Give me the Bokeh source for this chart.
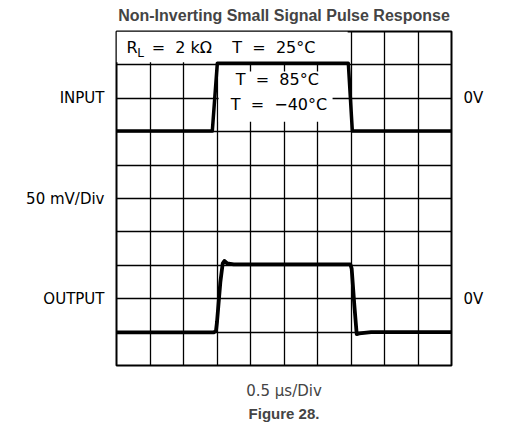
from bokeh.plotting import figure
from bokeh.models import Range1d, Grid, FixedTicker, Label, LinearAxis, Title
from bokeh.embed import file_html
from bokeh.resources import INLINE

# Data (divisions: x 0..10 @ 0.5 us/div, y 0..10 @ 50 mV/div)
input_x = [0, 2.86, 3.01, 6.92, 7.04, 10]
input_y = [7.02, 7.02, 9.05, 9.05, 7.02, 7.02]
output_x = [0, 2.9, 2.97, 3.0, 3.1, 3.17, 3.22, 3.3, 3.5, 6.98, 7.02, 7.1, 7.17, 7.25, 7.6, 10]
output_y = [0.99, 0.99, 1.04, 1.3, 2.5, 3.05, 3.13, 3.06, 3.03, 3.03, 2.9, 1.8, 0.94, 0.96, 1.0, 1.0]
div_ticks = list(range(11))
left_ticks = [2, 5, 8]
left_labels = ["OUTPUT", "50 mV/Div", "INPUT"]
right_ticks = [2, 8]
right_labels = ["0V", "0V"]
title_text = "Non-Inverting Small Signal Pulse Response"
x_label = "0.5 \u03bcs/Div"
fig_caption = "Figure 28."

FONT = "DejaVu Sans"
NB = "\u00a0"

p = figure(width=489, height=424, output_backend="svg", toolbar_location=None,
           x_range=Range1d(0, 10), y_range=Range1d(0, 10),
           x_axis_type=None, y_axis_type=None)
p.min_border_left = 116
p.min_border_right = 38
p.min_border_top = 30
p.min_border_bottom = 59
p.outline_line_color = "black"
p.outline_line_width = 2
p.background_fill_color = "white"
p.border_fill_color = "white"

p.title.text = title_text
p.title.align = "center"
p.title.text_font = "Liberation Sans"
p.title.text_font_size = "16px"
p.title.text_font_style = "bold"
p.title.standoff = 12
p.title.vertical_align = "top"

def side_axis(ticks, labels, where):
    ax = LinearAxis(ticker=FixedTicker(ticks=ticks),
                    major_label_overrides={t: l for t, l in zip(ticks, labels)})
    ax.axis_line_color = None
    ax.major_tick_line_color = None
    ax.minor_tick_line_color = None
    ax.major_tick_out = 0
    ax.major_tick_in = 0
    ax.major_label_standoff = 12
    ax.major_label_text_font = FONT
    ax.major_label_text_font_size = "15px"
    ax.major_label_text_color = "black"
    p.add_layout(ax, where)
    return ax

side_axis(left_ticks, left_labels, "left")
side_axis(right_ticks, right_labels, "right")

bx = LinearAxis(ticker=FixedTicker(ticks=[]))
bx.axis_line_color = None
bx.major_tick_line_color = None
bx.minor_tick_line_color = None
bx.major_tick_out = 0
bx.axis_label = x_label
bx.axis_label_text_font = FONT
bx.axis_label_text_font_size = "15px"
bx.axis_label_text_font_style = "normal"
bx.axis_label_standoff = 16
p.add_layout(bx, "below")

p.add_layout(Title(text=fig_caption, align="center", text_font="Liberation Sans",
                   text_font_size="15px", text_font_style="bold", standoff=0), "below")

p.add_layout(Grid(dimension=0, ticker=FixedTicker(ticks=div_ticks),
                  grid_line_color="black", grid_line_width=1.3))
p.add_layout(Grid(dimension=1, ticker=FixedTicker(ticks=div_ticks),
                  grid_line_color="black", grid_line_width=1.3))

# white label boxes over the grid
p.quad(left=[0.0, 3.05], right=[6.9, 6.45], bottom=[9.08, 7.3], top=[10, 8.8],
       fill_color="white", line_color=None)

p.line(input_x, input_y, line_color="black", line_width=3.5, line_join="round")
p.line(output_x, output_y, line_color="black", line_width=3.8, line_join="round")

def lab(x, y, text, size="16px", align="left"):
    p.add_layout(Label(x=x, y=y, text=text, text_font=FONT, text_font_size=size,
                       text_align=align, text_baseline="middle", text_color="black"))

lab(0.3, 9.52, "R")
lab(0.62, 9.36, "L", size="12px")
lab(1.05, 9.52, "=" + NB + " 2 k\u03a9" + NB + " " + NB + " T" + NB + " =" + NB + " 25\u00b0C")
lab(4.8, 8.55, "T" + NB + " =" + NB + " 85\u00b0C", align="center")
lab(4.85, 7.8, "T" + NB + " =" + NB + " \u221240\u00b0C", align="center")

open("out.html", "w").write(file_html(p, INLINE))
